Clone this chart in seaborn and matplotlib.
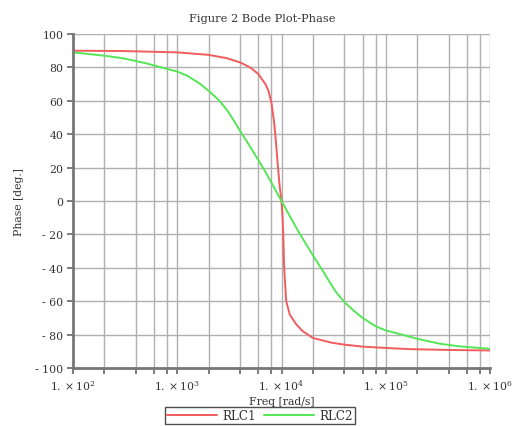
import numpy as np
import pandas as pd
import matplotlib
matplotlib.use("Agg")
import matplotlib.pyplot as plt
from matplotlib.lines import Line2D
import seaborn as sns

# ---- data ----
rlc1_freq = [1e2, 3e2, 1e3, 2e3, 3e3, 4e3, 5e3, 6e3, 7e3, 7.5e3, 8e3, 8.5e3, 8.8e3, 9.2e3,
             9.6e3, 1e4, 1.02e4, 1.04e4, 1.06e4, 1.11e4, 1.2e4, 1.39e4, 1.6e4, 2e4, 3e4,
             4e4, 6e4, 1e5, 1.7e5, 4e5, 1e6]
rlc1_phase = [90, 89.8, 89, 87.5, 85.5, 83, 80, 76, 70, 66, 59, 47, 37, 22,
              9, 0, -8, -20, -40, -60, -68, -74, -78, -82, -84.8,
              -86, -87.2, -88, -88.7, -89.2, -89.5]

rlc2_freq = [1e2, 2e2, 3e2, 5e2, 7e2, 1e3, 1.25e3, 1.67e3, 2e3, 2.5e3, 3e3, 3.5e3, 4e3,
             5e3, 6e3, 7e3, 8e3, 1e4, 1.25e4, 1.43e4, 1.67e4, 2e4, 2.5e4, 2.86e4, 3.33e4,
             4e4, 5e4, 6e4, 8e4, 1e5, 1.43e5, 2e5, 3.33e5, 5e5, 1e6]
rlc2_phase = [89, 87, 85.5, 82.5, 80, 77.5, 75, 70, 66, 60.5, 54.5, 48, 42,
              32.5, 24.5, 17.5, 11, 0, -11, -17.5, -24.5, -32.5, -42, -48, -54.5,
              -60.5, -66, -70, -75, -77.5, -80, -82.5, -85.5, -87, -88.5]

series_names = ["RLC1", "RLC2"]
series_colors = ["#f25c5c", "#55e655"]

ytick_values = [-100, -80, -60, -40, -20, 0, 20, 40, 60, 80, 100]
ytick_labels = ["- 100", "- 80", "- 60", "- 40", "- 20", "0", "20", "40", "60", "80", "100"]
xtick_values = [1e2, 1e3, 1e4, 1e5, 1e6]
xtick_labels = [r"$1.\times10^{2}$", r"$1.\times10^{3}$", r"$1.\times10^{4}$",
                r"$1.\times10^{5}$", r"$1.\times10^{6}$"]
grid_multiples = [2, 4, 6, 8]

title = "Figure 2 Bode Plot-Phase"
xlabel = "Freq [rad/s]"
ylabel = "Phase [deg.]"

df = pd.concat([
    pd.DataFrame({"freq": rlc1_freq, "phase": rlc1_phase, "series": series_names[0]}),
    pd.DataFrame({"freq": rlc2_freq, "phase": rlc2_phase, "series": series_names[1]}),
], ignore_index=True)

sns.set_style("white")
plt.rcParams["font.family"] = ["DejaVu Serif", "Liberation Serif"]
plt.rcParams["mathtext.fontset"] = "custom"
plt.rcParams["mathtext.rm"] = "DejaVu Serif"
plt.rcParams["mathtext.it"] = "DejaVu Serif:italic"
plt.rcParams["mathtext.bf"] = "DejaVu Serif:bold"

fig = plt.figure(figsize=(5.15, 4.27), dpi=100)
ax = fig.add_axes([73 / 515, 1 - 369 / 427, (490 - 73) / 515, (369 - 35) / 427])

sns.lineplot(data=df, x="freq", y="phase", hue="series", palette=series_colors,
             linewidth=1.4, ax=ax, legend=False, sort=True, estimator=None)

ax.set_xscale("log")
ax.set_xlim(1e2, 1e6)
ax.set_ylim(-100, 100)

minor_ticks = [m * 10 ** e for e in range(2, 6) for m in grid_multiples]
ax.set_xticks(xtick_values)
ax.set_xticklabels(xtick_labels)
ax.set_xticks(minor_ticks, minor=True)
ax.set_xticklabels([], minor=True)
ax.set_yticks(ytick_values)
ax.set_yticklabels(ytick_labels)

ax.grid(True, which="both", color="#b0b0b0", linewidth=1.0)
ax.set_axisbelow(True)
for s in ["top", "right"]:
    ax.spines[s].set_visible(False)
for s in ["left", "bottom"]:
    ax.spines[s].set_color("#777777")
    ax.spines[s].set_linewidth(2.0)

ax.tick_params(axis="both", which="both", direction="out", length=4, width=1.2,
               color="#666666", labelsize=7.8, labelcolor="#333333", pad=3,
               bottom=True, left=True)
ax.tick_params(axis="x", which="major", pad=3)

ax.set_xlabel(xlabel, fontsize=7.8, color="#333333", labelpad=3)
ax.set_ylabel(ylabel, fontsize=7.8, color="#333333", labelpad=8)
fig.text(262 / 515, 1 - 19 / 427, title, ha="center", va="center",
         fontsize=8.2, color="#333333")

handles = [Line2D([], [], color=c, linewidth=1.4) for c in series_colors]
leg = fig.legend(handles, series_names, loc="upper center",
                 bbox_to_anchor=(260 / 515, 1 - 408 / 427), ncol=2, frameon=True,
                 fontsize=8.6, handlelength=4.2, columnspacing=0.6, handletextpad=0.5,
                 borderpad=0.15, fancybox=False, borderaxespad=0)
leg.get_frame().set_edgecolor("#222222")
leg.get_frame().set_linewidth(1.0)
for t in leg.get_texts():
    t.set_color("#333333")

fig.savefig("out.png", dpi=100)
